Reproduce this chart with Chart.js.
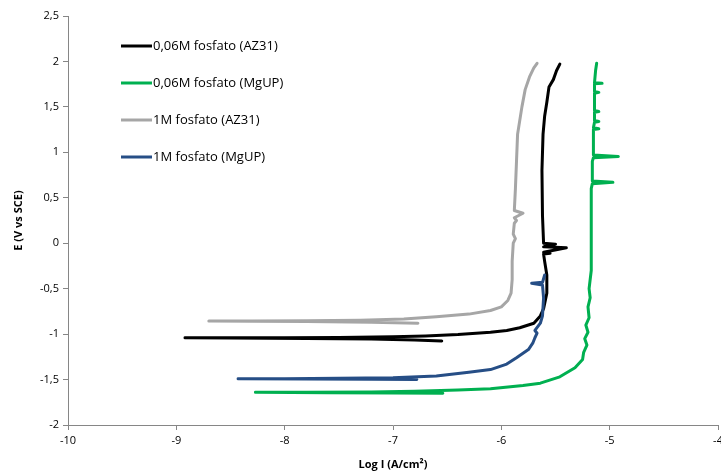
<!DOCTYPE html>
<html>
<head>
<meta charset="utf-8">
<script src="https://cdn.jsdelivr.net/npm/chart.js@4.4.0/dist/chart.umd.min.js"></script>
<style>
  html, body { margin: 0; padding: 0; background: #fff; }
  #cont { width: 721px; height: 474px; }
</style>
</head>
<body>
<div id="cont"><canvas id="curvas"></canvas></div>
<script>
// Etiquetas de las series
const series = ["0,06M fosfato (AZ31)", "0,06M fosfato (MgUP)", "1M fosfato (AZ31)", "1M fosfato (MgUP)"];

// 0,06M fosfato (AZ31) - Log I y E
const negroX = [-6.55, -6.8, -7.2, -7.8, -8.5, -8.92, -8.5, -8.0, -7.5, -7.0, -6.7, -6.4, -6.1, -5.95, -5.83, -5.7, -5.64, -5.61, -5.58, -5.58, -5.6, -5.61, -5.55, -5.61, -5.4, -5.61, -5.5, -5.61, -5.62, -5.625, -5.615, -5.6, -5.58, -5.56, -5.52, -5.49, -5.46];
const negroY = [-1.075, -1.065, -1.055, -1.048, -1.043, -1.04, -1.04, -1.04, -1.037, -1.03, -1.02, -1.005, -0.98, -0.96, -0.93, -0.88, -0.8, -0.72, -0.55, -0.35, -0.2, -0.12, -0.11, -0.1, -0.05, -0.04, -0.01, 0.0, 0.3, 0.8, 1.2, 1.4, 1.55, 1.72, 1.8, 1.9, 1.97];

// 0,06M fosfato (MgUP)
const verdeX = [-6.54, -7.0, -7.6, -8.27, -7.8, -7.2, -6.8, -6.4, -6.1, -5.8, -5.64, -5.46, -5.32, -5.25, -5.24, -5.21, -5.23, -5.2, -5.22, -5.19, -5.2, -5.18, -5.19, -5.17, -5.17, -5.17, -5.17, -5.16, -4.97, -5.16, -5.16, -5.15, -4.92, -5.15, -5.15, -5.1, -5.15, -5.14, -5.1, -5.14, -5.14, -5.1, -5.14, -5.14, -5.1, -5.14, -5.14, -5.07, -5.14, -5.13, -5.12];
const verdeY = [-1.65, -1.648, -1.645, -1.64, -1.64, -1.637, -1.63, -1.615, -1.6, -1.565, -1.54, -1.47, -1.37, -1.28, -1.2, -1.12, -1.05, -0.98, -0.9, -0.82, -0.7, -0.6, -0.5, -0.3, 0.0, 0.3, 0.6, 0.655, 0.67, 0.685, 0.9, 0.94, 0.955, 0.97, 1.25, 1.26, 1.27, 1.33, 1.34, 1.35, 1.44, 1.45, 1.46, 1.65, 1.66, 1.67, 1.755, 1.76, 1.765, 1.9, 1.98];

// 1M fosfato (AZ31)
const grisX = [-6.77, -7.2, -7.8, -8.3, -8.7, -8.3, -7.8, -7.3, -6.9, -6.6, -6.3, -6.1, -6.0, -5.94, -5.91, -5.9, -5.9, -5.89, -5.87, -5.89, -5.88, -5.86, -5.88, -5.8, -5.88, -5.87, -5.86, -5.85, -5.81, -5.78, -5.74, -5.7, -5.67];
const grisY = [-0.88, -0.87, -0.862, -0.858, -0.856, -0.855, -0.852, -0.847, -0.835, -0.81, -0.78, -0.74, -0.7, -0.63, -0.55, -0.4, -0.2, 0.0, 0.05, 0.1, 0.22, 0.25, 0.28, 0.33, 0.36, 0.6, 0.9, 1.2, 1.5, 1.69, 1.83, 1.93, 1.98];

// 1M fosfato (MgUP)
const azulX = [-6.78, -7.2, -7.8, -8.43, -8.0, -7.5, -7.0, -6.6, -6.3, -6.1, -5.95, -5.86, -5.75, -5.71, -5.69, -5.67, -5.69, -5.64, -5.62, -5.61, -5.62, -5.72, -5.62, -5.6];
const azulY = [-1.5, -1.497, -1.495, -1.49, -1.49, -1.487, -1.48, -1.46, -1.42, -1.39, -1.33, -1.26, -1.17, -1.1, -1.04, -0.99, -0.96, -0.88, -0.8, -0.6, -0.46, -0.44, -0.43, -0.35];

const colores = ["#000000", "#00B050", "#A6A6A6", "#264E86"];

// Une las listas x e y en puntos
function puntos(xs, ys) {
  return xs.map((x, i) => ({ x: x, y: ys[i] }));
}

const fuente = "'Open Sans', 'Liberation Sans', sans-serif";
const gris = "#868686";

// Leyenda dibujada a mano dentro del área del gráfico
const leyenda = {
  id: "leyenda",
  afterDraw(chart) {
    const ctx = chart.ctx;
    ctx.save();
    ctx.font = "13px " + fuente;
    ctx.textBaseline = "middle";
    chart.data.datasets.forEach((ds, i) => {
      const y = 46 + i * 37;
      ctx.strokeStyle = ds.borderColor;
      ctx.lineWidth = 3;
      ctx.beginPath();
      ctx.moveTo(121, y);
      ctx.lineTo(152, y);
      ctx.stroke();
      ctx.fillStyle = "#000";
      ctx.fillText(ds.label, 153, y);
    });
    ctx.restore();
  }
};

const ctx = document.getElementById("curvas").getContext("2d");
const chart = new Chart(ctx, {
  type: "scatter",
  data: {
    datasets: [
      { label: series[0], data: puntos(negroX, negroY), borderColor: colores[0], order: 4 },
      { label: series[1], data: puntos(verdeX, verdeY), borderColor: colores[1], order: 3 },
      { label: series[2], data: puntos(grisX, grisY), borderColor: colores[2], order: 2 },
      { label: series[3], data: puntos(azulX, azulY), borderColor: colores[3], order: 1 }
    ].map(ds => Object.assign(ds, {
      showLine: true,
      pointRadius: 0,
      borderWidth: 3,
      tension: 0,
      borderJoinStyle: "round",
      borderCapStyle: "round",
      backgroundColor: ds.borderColor
    }))
  },
  options: {
    responsive: true,
    maintainAspectRatio: false,
    animation: false,
    layout: { padding: { top: 16, right: 3, left: 0, bottom: 0 } },
    plugins: {
      legend: { display: false },
      tooltip: { enabled: false }
    },
    scales: {
      x: {
        type: "linear",
        min: -10,
        max: -4,
        afterFit(scale) {
          scale.height = 49;
          scale.paddingRight = 0;
          scale.paddingLeft = 0;
        },
        ticks: {
          stepSize: 1,
          color: "#000",
          font: { family: fuente, size: 11 },
          padding: 4,
          maxRotation: 0
        },
        grid: { drawOnChartArea: false, drawTicks: true, tickLength: 5, color: gris },
        border: { color: gris },
        title: {
          display: true,
          text: "Log I (A/cm²)",
          color: "#000",
          font: { family: fuente, size: 11, weight: "bold" },
          padding: { top: 0, bottom: 3 }
        }
      },
      y: {
        min: -2,
        max: 2.5,
        afterFit(scale) {
          scale.width = 68;
        },
        ticks: {
          stepSize: 0.5,
          color: "#000",
          font: { family: fuente, size: 11 },
          padding: 4,
          callback: v => String(v).replace(".", ",")
        },
        grid: { drawOnChartArea: false, drawTicks: true, tickLength: 5, color: gris },
        border: { color: gris },
        title: {
          display: true,
          text: "E (V vs SCE)",
          color: "#000",
          font: { family: fuente, size: 11, weight: "bold" },
          padding: { top: 12, bottom: 0 }
        }
      }
    }
  },
  plugins: [leyenda]
});
</script>
</body>
</html>
